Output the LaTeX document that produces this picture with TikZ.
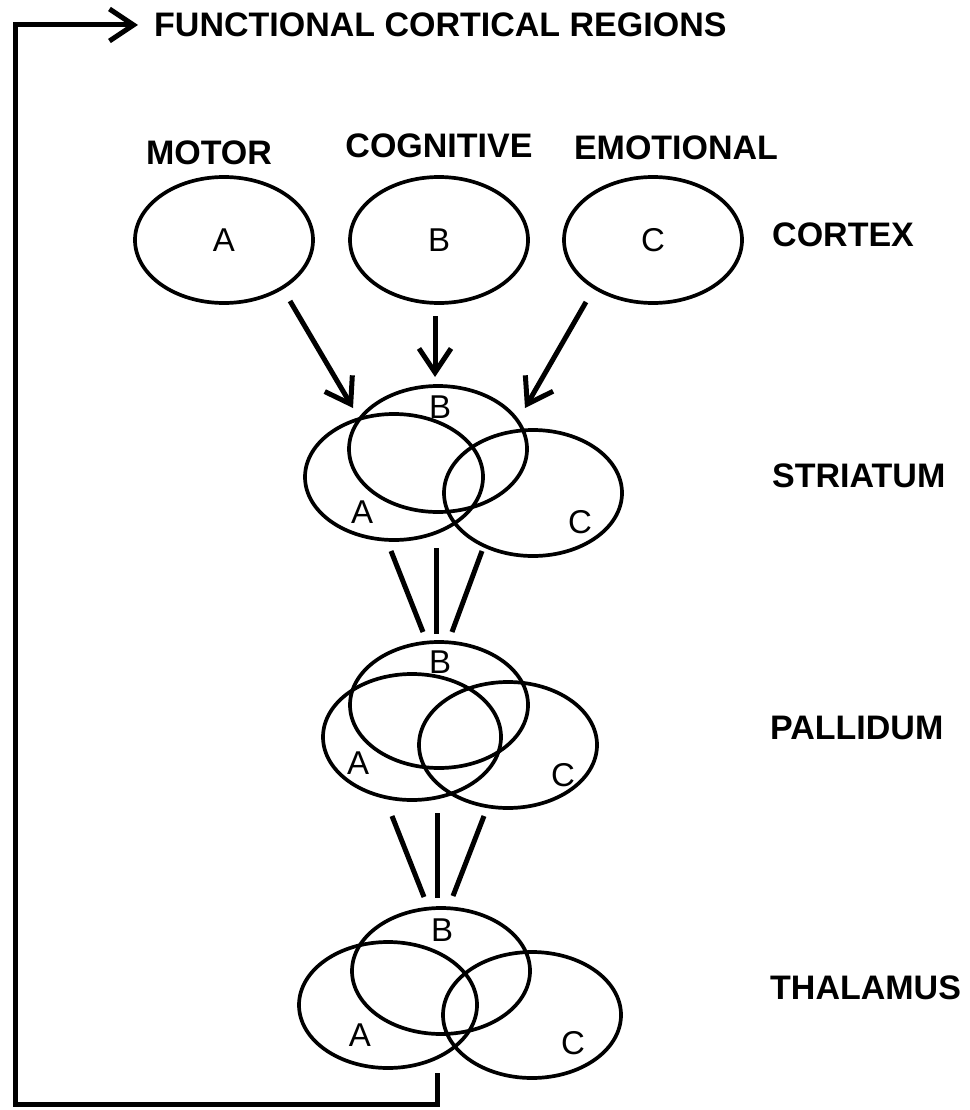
\documentclass[tikz,border=0pt]{standalone}
\usepackage{fontspec}
\setmainfont{Liberation Sans}
\usetikzlibrary{shapes.geometric,arrows.meta}
\tikzset{
  region/.style={draw, ellipse, line width=3.7pt, minimum width=178pt, minimum height=126pt, inner sep=0pt,
    font=\fontsize{33}{38}\selectfont},
  lett/.style={font=\fontsize{33}{38}\selectfont, inner sep=0pt},
  lab/.style={font=\bfseries\fontsize{34}{40}\selectfont, inner sep=0pt},
  proj/.style={line width=5pt, -{Straight Barb[length=24pt,width=32pt]}},
  link/.style={line width=5pt, line cap=butt},
}
\begin{document}
\begin{tikzpicture}[x=1pt,y=-1pt]
\useasboundingbox (0,0) rectangle (969,1110);
% title
\node[lab, anchor=west] (title) at (154,25) {FUNCTIONAL CORTICAL REGIONS};
% column labels
\node[lab] (motor) at (209,153) {MOTOR};
\node[lab] (cogn) at (439,146) {COGNITIVE};
\node[lab] (emot) at (676,148) {EMOTIONAL};
% level labels
\node[lab, anchor=west] (lcortex) at (772,235) {CORTEX};
\node[lab, anchor=west] (lstri) at (772,476) {STRIATUM};
\node[lab, anchor=west] (lpall) at (770,728) {PALLIDUM};
\node[lab, anchor=west] (lthal) at (770,988) {THALAMUS};
% cortex
\node[region] (cA) at (224,240) {A};
\node[region] (cB) at (439,240) {B};
\node[region] (cC) at (653,240) {C};
% striatum
\node[region] (sB) at (438,449) {};
\node[region] (sA) at (394,477) {};
\node[region] (sC) at (533,493) {};
\node[lett] (sBl) at (440,407) {B};
\node[lett] (sAl) at (362,512) {A};
\node[lett] (sCl) at (580,522) {C};
% pallidum
\node[region] (pB) at (439,705) {};
\node[region] (pA) at (412,737) {};
\node[region] (pC) at (508,745) {};
\node[lett] (pBl) at (440,662) {B};
\node[lett] (pAl) at (358,763) {A};
\node[lett] (pCl) at (563,775) {C};
% thalamus
\node[region] (tB) at (441,971) {};
\node[region] (tA) at (388,1005) {};
\node[region] (tC) at (532,1015) {};
\node[lett] (tBl) at (442,930) {B};
\node[lett] (tAl) at (360,1035) {A};
\node[lett] (tCl) at (573,1043) {C};
% cortex -> striatum arrows
\coordinate (aA1) at (290,301); \coordinate (aA2) at (353,408);
\coordinate (aB1) at (435,316); \coordinate (aB2) at (435,377);
\coordinate (aC1) at (586,302); \coordinate (aC2) at (525,408);
\draw[proj] (aA1) -- (aA2);
\draw[proj] (aB1) -- (aB2);
\draw[proj] (aC1) -- (aC2);
% striatum -> pallidum
\coordinate (sp1a) at (391,551); \coordinate (sp1b) at (423,632);
\coordinate (sp2a) at (436,548); \coordinate (sp2b) at (436,634);
\coordinate (sp3a) at (482,551); \coordinate (sp3b) at (452,632);
\draw[link] (sp1a) -- (sp1b);
\draw[link] (sp2a) -- (sp2b);
\draw[link] (sp3a) -- (sp3b);
% pallidum -> thalamus
\coordinate (pt1a) at (392,816); \coordinate (pt1b) at (424,897);
\coordinate (pt2a) at (437,813); \coordinate (pt2b) at (437,898);
\coordinate (pt3a) at (484,816); \coordinate (pt3b) at (453,896);
\draw[link] (pt1a) -- (pt1b);
\draw[link] (pt2a) -- (pt2b);
\draw[link] (pt3a) -- (pt3b);
% feedback loop
\coordinate (fb0) at (437,1073);
\coordinate (fb1) at (437,1104);
\coordinate (fb2) at (15,1104);
\coordinate (fb3) at (15,25);
\coordinate (fb4) at (138,25);
\draw[line width=5pt, line join=miter, -{Straight Barb[length=24pt,width=32pt]}] (fb0) -- (fb1) -- (fb2) -- (fb3) -- (fb4);
\end{tikzpicture}
\end{document}
